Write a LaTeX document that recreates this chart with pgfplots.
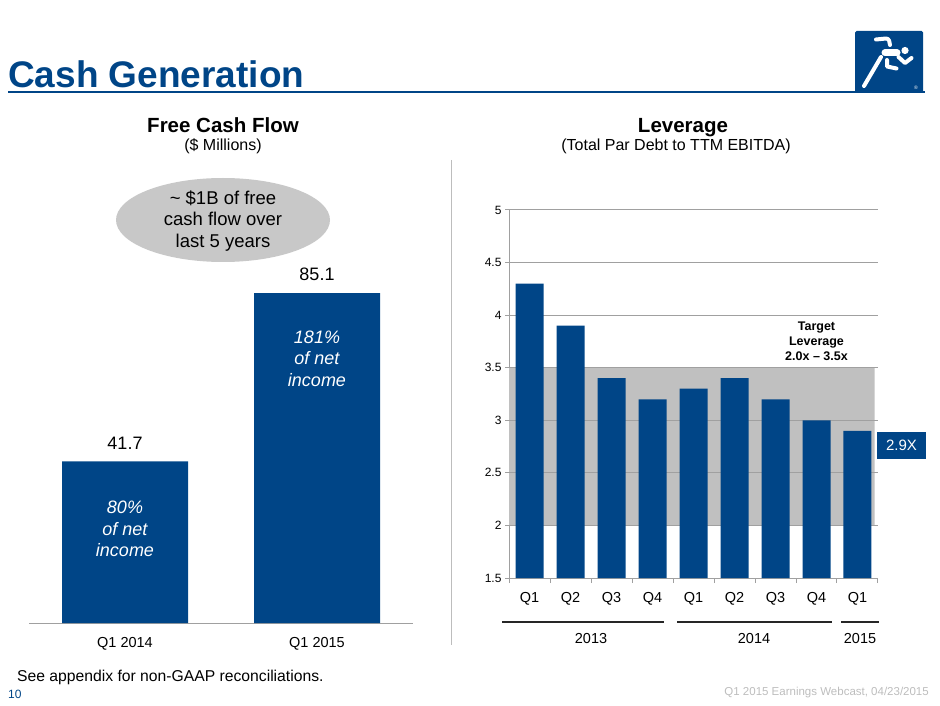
\documentclass[border=0pt]{standalone}
\usepackage{pgfplots}
\pgfplotsset{compat=1.18}
\usepackage{fontspec}
\setmainfont{Liberation Sans}
\definecolor{bblue}{HTML}{004587}
\definecolor{bandc}{HTML}{C0C0C0}
\definecolor{gridc}{HTML}{A0A0A0}
\definecolor{ellc}{HTML}{C8C8C8}
\definecolor{footc}{HTML}{BDBDBD}
\newcommand{\fs}[1]{\fontsize{#1}{#1}\selectfont}
\begin{document}
\begin{tikzpicture}[x=1pt,y=1pt]
\useasboundingbox (0,0) rectangle (940,705);
% ---------- header (pixel coordinates, y downward) ----------
\begin{scope}[shift={(0,705)}, yscale=-1]
  \node[anchor=base west, inner sep=0, text=bblue, font=\fs{37}\bfseries] at (8,88) {Cash Generation};
  \draw[bblue, line width=2pt] (8,92.5) -- (925,92.5);
  % logo
  \fill[bblue, rounded corners=1.5pt] (855,31) rectangle (923,93);
  \begin{scope}[white, line cap=round, line join=round]
    \fill (905,50.5) circle (3.6);
    \draw[line width=7pt] (885,53) -- (897,53);
    \draw[line width=4pt] (876,39.5) -- (886,38.5) to[out=0,in=-90] (890,45);
    \draw[line width=4pt] (898.5,57) -- (905,63) -- (911.5,58);
    \draw[line width=4pt] (881,57) -- (864,86);
    \draw[line width=4pt] (887,60) -- (887,66.5) -- (896.5,68.5);
    \node[font=\fs{5}, inner sep=0] at (916,88) {®};
  \end{scope}
  % subtitles
  \node[anchor=base, inner sep=0, font=\fs{20.5}\bfseries] at (223,132.5) {Free Cash Flow};
  \node[anchor=base, inner sep=0, font=\fs{16}] at (223,150.5) {(\$ Millions)};
  \node[anchor=base, inner sep=0, font=\fs{20.5}\bfseries] at (683,132.5) {Leverage};
  \node[anchor=base, inner sep=0, font=\fs{16}] at (676,150.5) {(Total Par Debt to TTM EBITDA)};
  % divider
  \draw[footc, line width=1pt] (451,160) -- (451,645);
  % ellipse
  \fill[ellc] (223,220) ellipse (107 and 42);
  \node[font=\fs{18.5}, align=center, text=black] at (223,221) {\textasciitilde\ \$1B of free\\[3pt]cash flow over\\[3pt]last 5 years};
  % year brackets
  \draw[black!85, line width=1.5pt] (502,622) -- (664,622);
  \draw[black!85, line width=1.5pt] (677,622) -- (832,622);
  \draw[black!85, line width=1.5pt] (841,622) -- (879,622);
  \node[font=\fs{14.5}] at (591,639) {2013};
  \node[font=\fs{14.5}] at (754,639) {2014};
  \node[font=\fs{14.5}] at (860,639) {2015};
  % 2.9X box
  \fill[bblue] (877,432) rectangle (926,459);
  \node[font=\fs{15}, text=white] at (901.5,445.5) {2.9X};
  % footer
  \node[anchor=west, font=\fs{15.7}, inner sep=0] at (17,677) {See appendix for non-GAAP reconciliations.};
  \node[anchor=west, font=\fs{12}, text=bblue, inner sep=0] at (8,694) {10};
  \node[anchor=east, font=\fs{11.5}, text=footc, inner sep=0] at (929,693) {Q1 2015 Earnings Webcast, 04/23/2015};
\end{scope}
% ---------- left chart ----------
\begin{axis}[
  at={(29pt,82pt)}, anchor=south west, scale only axis,
  width=384pt, height=387.5pt,
  xmin=-0.5, xmax=1.5, ymin=0, ymax=100,
  axis y line=none, axis x line*=bottom,
  axis line style={draw=gridc, line width=1pt, -},
  xtick={0,1}, xticklabels={Q1 2014, Q1 2015},
  major tick length=0pt,
  xticklabel style={font=\fs{14.5}, yshift=-11pt},
  clip=false,
]
\addplot[ybar, bar width=126pt, fill=bblue, draw=none,
  point meta=explicit symbolic, nodes near coords,
  every node near coord/.style={font=\fs{18}, text=black, anchor=south, inner sep=0pt, yshift=12pt}]
  coordinates {(0,41.7) [41.7] (1,85.1) [85.1]};
\node[text=white, font=\fs{18}\itshape, align=center] at (axis cs:0,24.3) {80\%\\[3.5pt]of net\\[3.5pt]income};
\node[text=white, font=\fs{18}\itshape, align=center] at (axis cs:1,68.3) {181\%\\[3.5pt]of net\\[3.5pt]income};
\end{axis}
% ---------- right chart ----------
\begin{axis}[
  at={(509pt,127pt)}, anchor=south west, scale only axis,
  width=369pt, height=368pt,
  xmin=-0.5, xmax=8.5, ymin=1.5, ymax=5,
  axis x line*=bottom, axis y line*=left,
  axis line style={draw=gridc, line width=1pt, -},
  ymajorgrids, grid style={draw=gridc, line width=1pt},
  ytick={1.5,2,2.5,3,3.5,4,4.5,5},
  yticklabels={1.5,2,2.5,3,3.5,4,4.5,5},
  yticklabel style={font=\fs{12}},
  xtick={0,1,2,3,4,5,6,7,8}, xticklabels={Q1,Q2,Q3,Q4,Q1,Q2,Q3,Q4,Q1},
  xticklabel style={font=\fs{14.5}, yshift=-7pt},
  minor xtick={-0.5,0.5,1.5,2.5,3.5,4.5,5.5,6.5,7.5,8.5},
  major x tick style={draw=none},
  minor x tick style={draw=gridc, line width=1pt},
  major y tick style={draw=gridc, line width=1pt},
  tick align=outside, major tick length=4pt, minor tick length=5pt,
  clip=false,
]
\addplot[fill=bandc, draw=none]
  coordinates {(-0.5,2) (8.42,2) (8.42,3.5) (-0.5,3.5) (-0.5,2)};
\addplot[draw=gridc, line width=1pt] coordinates {(-0.5,2.5) (8.5,2.5)};
\addplot[draw=gridc, line width=1pt] coordinates {(-0.5,3) (8.5,3)};
\addplot[draw=gridc, line width=1pt] coordinates {(-0.5,3.5) (8.5,3.5)};
\addplot[draw=gridc, line width=1pt] coordinates {(-0.5,2) (8.5,2)};
\addplot[ybar, bar width=28pt, fill=bblue, draw=none]
  coordinates {(0,4.3) (1,3.9) (2,3.4) (3,3.2) (4,3.3) (5,3.4) (6,3.2) (7,3.0) (8,2.9)};
\node[font=\fs{12.5}\bfseries, align=center] at (axis cs:7,3.754) {Target\\[2.5pt]Leverage\\[2.5pt]2.0x -- 3.5x};
\end{axis}
\end{tikzpicture}
\end{document}
